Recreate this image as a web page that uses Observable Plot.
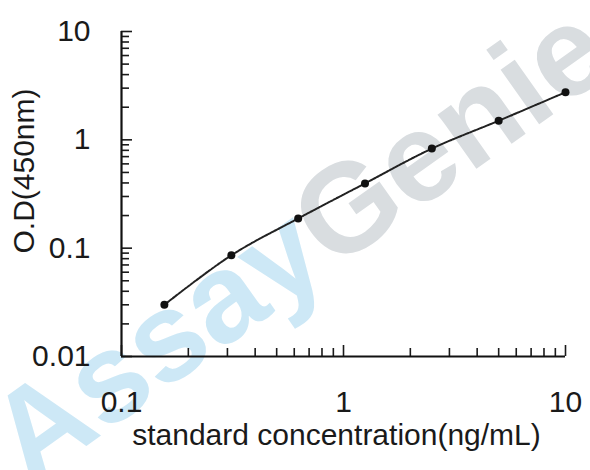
<!DOCTYPE html>
<html>
<head>
<meta charset="utf-8">
<script src="https://cdn.jsdelivr.net/npm/d3@7"></script>
<script src="https://cdn.jsdelivr.net/npm/@observablehq/plot@0.6"></script>
<style>
  html, body { margin: 0; padding: 0; background: #fff; }
  #chart svg { display: block; }
</style>
</head>
<body>
<div id="chart"></div>
<script>
// Standard curve data
const concentration = [0.156, 0.3125, 0.625, 1.25, 2.5, 5, 10];
const od450 = [0.030, 0.086, 0.188, 0.396, 0.83, 1.5, 2.75];

// Tick labels / tick positions
const xMajor = [0.1, 1, 10];
const xMinor = [0.2, 0.3, 0.4, 0.5, 0.6, 0.7, 0.8, 0.9, 2, 3, 4, 5, 6, 7, 8, 9];
const yMajor = [0.01, 0.1, 1, 10];
const yMinor = [0.02, 0.03, 0.04, 0.05, 0.06, 0.07, 0.08, 0.09,
                0.2, 0.3, 0.4, 0.5, 0.6, 0.7, 0.8, 0.9,
                2, 3, 4, 5, 6, 7, 8, 9];

const xTitle = "standard concentration(ng/mL)";
const yTitle = "O.D(450nm)";

const data = concentration.map((c, i) => ({c, od: od450[i]}));
const fmt = d => String(d);
const font = "Liberation Sans, Arial, sans-serif";

const chart = Plot.plot({
  width: 590,
  height: 470,
  marginLeft: 121,
  marginRight: 25,
  marginTop: 31,
  marginBottom: 114,
  style: {fontFamily: font, fontSize: "30px", color: "#1a1a1a", background: "#fff"},
  x: {type: "log", domain: [0.1, 10]},
  y: {type: "log", domain: [0.01, 10]},
  marks: [
    // tick marks (inward)
    Plot.axisX(xMinor, {tickSize: -8, tickFormat: () => "", strokeWidth: 1.6, label: null}),
    Plot.axisX(xMajor, {tickSize: -11, tickFormat: () => "", strokeWidth: 1.6, label: null}),
    Plot.axisY(yMinor, {tickSize: -8, tickFormat: () => "", strokeWidth: 1.6, label: null}),
    Plot.axisY(yMajor, {tickSize: -11, tickFormat: () => "", strokeWidth: 1.6, label: null}),
    // tick labels
    Plot.axisX(xMajor, {tickSize: 0, tickPadding: 34, tickFormat: fmt, label: null, fontSize: 30}),
    Plot.axisY(yMajor, {tickSize: 0, tickPadding: 31, tickFormat: fmt, label: null, fontSize: 30}),
    // axis lines
    Plot.ruleY([0.01], {strokeWidth: 2.2, stroke: "#111"}),
    Plot.ruleX([0.1], {strokeWidth: 2.2, stroke: "#111"}),
    // curve and points
    Plot.line(data, {x: "c", y: "od", curve: "catmull-rom", stroke: "#222", strokeWidth: 2, strokeDasharray: "2.5 1.2"}),
    Plot.dot(data, {x: "c", y: "od", r: 4, fill: "#111", stroke: "none"}),
    // titles
    Plot.text([xTitle], {text: d => d, frameAnchor: "bottom", dx: -7, dy: 88, fontSize: 30, fill: "#1a1a1a"}),
    Plot.text([yTitle], {text: d => d, frameAnchor: "left", textAnchor: "middle", dx: -97, dy: -23, rotate: -90, fontSize: 30, fill: "#1a1a1a"})
  ]
});

// Watermark (decoration, behind the chart)
const svg = d3.select(chart);
const wm = svg.insert("g", ":first-child")
  .attr("transform", "translate(298,242) rotate(-35.4)")
  .attr("font-family", font)
  .attr("font-weight", "bold")
  .attr("font-size", 126)
  .attr("dominant-baseline", "central");
wm.append("text").attr("x", 11).attr("text-anchor", "end").attr("fill", "#cde8f6").text("Assay");
wm.append("text").attr("x", 11).attr("text-anchor", "start").attr("fill", "#d9dde0").text("Genie");

document.getElementById("chart").appendChild(chart);
</script>
</body>
</html>
